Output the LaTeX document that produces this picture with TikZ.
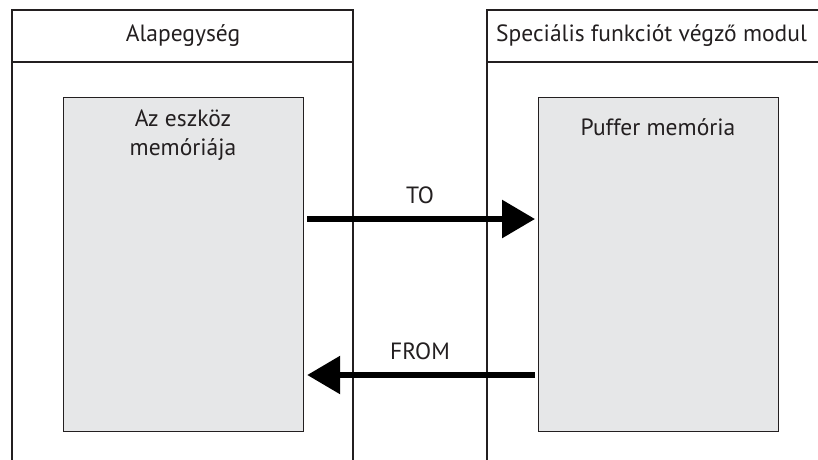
\documentclass[tikz,border=0pt]{standalone}
\usepackage{fontspec}
\setmainfont{PT Sans}
\usetikzlibrary{arrows.meta}
\definecolor{txt}{HTML}{231F20}
\definecolor{memfill}{HTML}{E6E7E8}
\tikzset{
  frame/.style={draw=txt, line width=1.1pt},
  membox/.style={draw=txt, line width=1.2pt, fill=memfill, minimum width=240pt, minimum height=334pt, anchor=north west, inner sep=0pt},
  lbl/.style={text=txt, font=\fontsize{23.5}{29}\selectfont, inner sep=0pt, align=center},
  bigarrow/.style={line width=6pt, draw=black, -{Triangle[length=33pt,width=37pt]}, shorten <=3pt, shorten >=3pt},
}
\begin{document}
\begin{tikzpicture}[x=1pt,y=-1pt]
\useasboundingbox (0,0) rectangle (818,459);
\clip (0,0) rectangle (818,459);
\fill[white] (0,0) rectangle (818,459);
% outer frames
\draw[frame] (12,470) -- (12,10) -- (353,10) -- (353,470);
\draw[frame] (12,62) -- (353,62);
\draw[frame] (487,470) -- (487,10) -- (830,10);
\draw[frame] (487,62) -- (830,62);
% headers
\node[lbl] (hl) at (183,36) {Alapegység};
\node[lbl, anchor=west] (hr) at (496,36) {Speciális funkciót végző modul};
% memory boxes
\node[membox] (lmem) at (63,97) {};
\node[membox] (rmem) at (538,97) {};
\node[lbl] (lt) at (183,135) {Az eszköz\\memóriája};
\node[lbl] (rt) at (658,127) {Puffer memória};
% arrows
\coordinate (toy) at (0,219);
\coordinate (fromy) at (0,375);
\draw[bigarrow] (lmem.east |- toy) -- (rmem.west |- toy);
\draw[bigarrow] (rmem.west |- fromy) -- (lmem.east |- fromy);
\node[lbl] (to) at (420,195) {TO};
\node[lbl] (from) at (420,351) {FROM};
\end{tikzpicture}
\end{document}
